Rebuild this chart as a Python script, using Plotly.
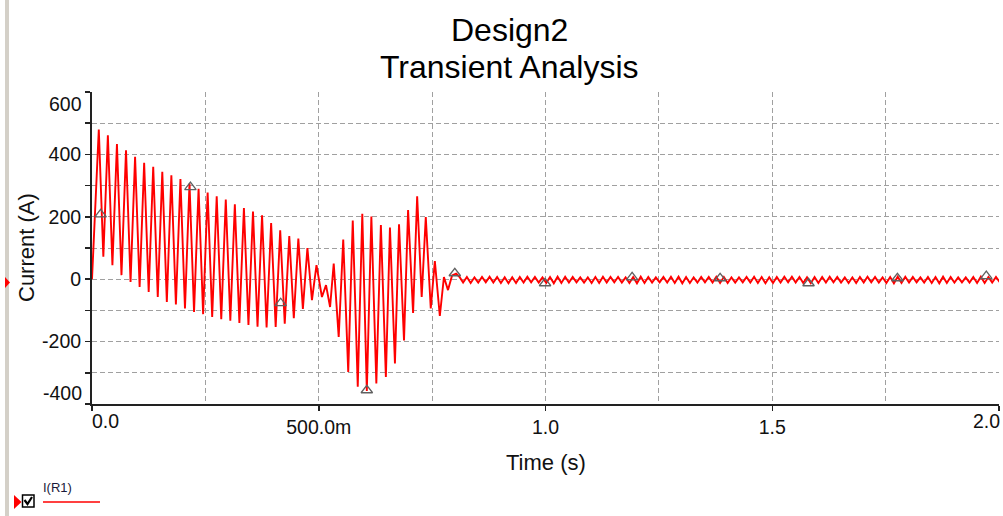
import numpy as np
import plotly.graph_objects as go

# ---------------- data ----------------
# decaying 50 Hz section: peak / trough values per cycle
decay_first_peak_t = 0.015
decay_period = 0.02
decay_peaks = [480, 461, 433, 413, 392, 373, 360, 344, 333, 321, 307, 290, 278,
               266, 255, 240, 228, 217, 205, 180, 157, 138, 130, 100, 45]
decay_troughs = [72, 45, 13, -9, -25, -41, -57, -73, -81, -94, -105, -112, -121,
                 -128, -133, -140, -147, -152, -155, -153, -143, -125, -95, -67]

# burst section (0.5 s .. 0.8 s): extrema times and values
burst_t = [0.507, 0.516, 0.525, 0.533, 0.544, 0.554, 0.565, 0.575, 0.586, 0.596,
           0.606, 0.616, 0.627, 0.637, 0.648, 0.657, 0.668, 0.677, 0.688, 0.697,
           0.708, 0.717, 0.727, 0.736, 0.747, 0.756, 0.767, 0.776, 0.785, 0.794, 0.803]
burst_v = [-57, -19, -89, 50, -185, 127, -297, 188, -345, 210,
           -358, 201, -334, 174, -313, 166, -270, 176, -196, 222,
           -108, 266, -57, 199, -94, 58, -118, 7, -35, 12, 18]

# steady ripple after 0.8 s (about 60 Hz)
tail_first_t = 0.81
tail_period = 1 / 60
tail_hi = [8, 7, 6, 7, 8, 7, 6, 6, 7, 8, 7, 6,
           7, 8, 8, 7, 6, 6, 7, 8, 7, 7, 6, 7,
           8, 7, 6, 7, 8, 8, 7, 6, 7, 7, 8, 7,
           6, 6, 7, 8, 7, 6, 7, 8, 8, 7, 6, 7,
           7, 8, 7, 6, 6, 7, 8, 7, 6, 7, 8, 8,
           7, 6, 7, 7, 8, 7, 6, 6, 7, 8, 7, 7]
tail_lo = [-11, -12, -11, -10, -11, -12, -13, -12, -11, -10, -11, -12,
           -13, -12, -11, -10, -11, -12, -12, -11, -10, -11, -12, -13,
           -12, -11, -10, -11, -12, -13, -12, -11, -10, -11, -12, -12,
           -11, -10, -11, -12, -13, -12, -11, -10, -11, -12, -13, -12,
           -11, -10, -11, -12, -12, -11, -10, -11, -12, -13, -12, -11,
           -10, -11, -12, -13, -12, -11, -10, -11, -12, -12, -11, -10]

# cursor triangles on the trace
marker_t = [0.019, 0.217, 0.416, 0.606, 0.800, 0.999, 1.191, 1.385, 1.580, 1.776, 1.972]
marker_v = [208, 295, -77, -356, 19, -13, 6, 3, -13, 3, 10]

# axis ticks
y_tickvals = [-400, -300, -200, -100, 0, 100, 200, 300, 400, 500, 600]
y_ticktext = ["", "", "-200", "", "0", "", "200", "", "400", "", ""]
x_tickvals = [0.0, 0.5, 1.0, 1.5, 2.0]
x_ticktext = ["", "500.0m", "1.0", "1.5", ""]
x_minor_vals = [0.25, 0.75, 1.25, 1.75]

# ---------------- build the trace ----------------
t = [0.0]
v = [0.0]
for k, p in enumerate(decay_peaks):
    t.append(decay_first_peak_t + k * decay_period)
    v.append(p)
    if k < len(decay_troughs):
        t.append(decay_first_peak_t + k * decay_period + decay_period / 2)
        v.append(decay_troughs[k])
t += burst_t
v += burst_v
for k, (hi, lo) in enumerate(zip(tail_hi, tail_lo)):
    t.append(tail_first_t + k * tail_period)
    v.append(hi)
    t.append(tail_first_t + k * tail_period + tail_period / 2)
    v.append(lo)

W, H = 1003, 516
L, R, T, B = 92, 4, 92, 112
pw, ph = W - L - R, H - T - B


def px(xp):
    return (xp - L) / pw


def py(yp):
    return (H - B - yp) / ph


FONT = "Liberation Sans, Arial, sans-serif"
GRID = "#a0a0a0"
DASH = "5px,3px"
TICKSIZE = 19.5

fig = go.Figure()
fig.add_trace(go.Scatter(x=t, y=v, mode="lines",
                         line=dict(color="#ff0000", width=1.9),
                         hoverinfo="skip", showlegend=False))
fig.add_trace(go.Scatter(x=marker_t, y=marker_v, mode="markers",
                         marker=dict(symbol="triangle-up-open", size=10,
                                     color="#606060", line=dict(width=1.3)),
                         hoverinfo="skip", showlegend=False))

fig.update_layout(
    width=W, height=H,
    margin=dict(l=L, r=R, t=T, b=B),
    paper_bgcolor="white", plot_bgcolor="white",
    font=dict(family=FONT, color="#111111"),
    showlegend=False,
)

fig.update_xaxes(
    range=[0, 2.0], tickvals=x_tickvals, ticktext=x_ticktext,
    showgrid=True, gridcolor=GRID, griddash=DASH, gridwidth=1,
    minor=dict(tickvals=x_minor_vals, showgrid=True, gridcolor=GRID,
               griddash=DASH, gridwidth=1, ticks=""),
    showline=True, linecolor="#222222", linewidth=2, mirror=False,
    ticks="outside", ticklen=5, tickcolor="#222222", tickwidth=1.5,
    tickfont=dict(size=TICKSIZE, family=FONT, color="#111111"),
    ticklabeloverflow="allow",
    zeroline=False, automargin=False,
)
fig.update_yaxes(
    range=[-400, 600], tickvals=y_tickvals, ticktext=y_ticktext,
    showgrid=True, gridcolor=GRID, griddash=DASH, gridwidth=1,
    showline=True, linecolor="#222222", linewidth=2, mirror=False,
    ticks="outside", ticklen=5, tickcolor="#222222", tickwidth=1.5,
    tickfont=dict(size=TICKSIZE, family=FONT, color="#111111"),
    zeroline=False, automargin=False,
)

ann = []
# title lines
ann.append(dict(text="Design2", x=px(509), y=py(30), xref="paper", yref="paper",
                showarrow=False, font=dict(size=32, family=FONT, color="#000"),
                xanchor="center", yanchor="middle"))
ann.append(dict(text="Transient Analysis", x=px(509), y=py(67), xref="paper", yref="paper",
                showarrow=False, font=dict(size=32, family=FONT, color="#000"),
                xanchor="center", yanchor="middle"))
# axis titles
ann.append(dict(text="Time (s)", x=px(546), y=py(462), xref="paper", yref="paper",
                showarrow=False, font=dict(size=22, family=FONT, color="#111"),
                xanchor="center", yanchor="middle"))
ann.append(dict(text="Current (A)", x=px(26), y=py(248), xref="paper", yref="paper",
                showarrow=False, textangle=-90, font=dict(size=22, family=FONT, color="#111"),
                xanchor="center", yanchor="middle"))
# edge tick labels, pulled inside like the original
ann.append(dict(text="600", x=px(84), y=py(104), xref="paper", yref="paper",
                showarrow=False, font=dict(size=TICKSIZE, family=FONT, color="#111"),
                xanchor="right", yanchor="middle"))
ann.append(dict(text="-400", x=px(84), y=py(393), xref="paper", yref="paper",
                showarrow=False, font=dict(size=TICKSIZE, family=FONT, color="#111"),
                xanchor="right", yanchor="middle"))
ann.append(dict(text="0.0", x=px(90), y=py(421), xref="paper", yref="paper",
                showarrow=False, font=dict(size=TICKSIZE, family=FONT, color="#111"),
                xanchor="left", yanchor="middle"))
ann.append(dict(text="2.0", x=px(1002), y=py(421), xref="paper", yref="paper",
                showarrow=False, font=dict(size=TICKSIZE, family=FONT, color="#111"),
                xanchor="right", yanchor="middle"))
# legend text
ann.append(dict(text="I(R1)", x=px(41), y=py(487), xref="paper", yref="paper",
                showarrow=False, font=dict(size=13, family=FONT, color="#1a1a3a"),
                xanchor="left", yanchor="middle"))
fig.update_layout(annotations=ann)

shapes = []
# window side bar
shapes.append(dict(type="rect", xref="paper", yref="paper",
                   x0=px(5), x1=px(9), y0=py(0), y1=py(H),
                   fillcolor="#d4d0c8", line=dict(width=0), layer="above"))
# red pointer on the side bar
shapes.append(dict(type="path", xref="paper", yref="paper",
                   path=f"M {px(5)} {py(277)} L {px(5)} {py(288)} L {px(10)} {py(282.5)} Z",
                   fillcolor="#ff0000", line=dict(width=0), layer="above"))
# legend pointer
shapes.append(dict(type="path", xref="paper", yref="paper",
                   path=f"M {px(14)} {py(495)} L {px(14)} {py(509)} L {px(21.5)} {py(502)} Z",
                   fillcolor="#ff0000", line=dict(width=0), layer="above"))
# checkbox
shapes.append(dict(type="rect", xref="paper", yref="paper",
                   x0=px(22.5), x1=px(34), y0=py(495), y1=py(507),
                   fillcolor="white", line=dict(color="#000", width=1.5), layer="above"))
shapes.append(dict(type="path", xref="paper", yref="paper",
                   path=f"M {px(24.5)} {py(500)} L {px(27.5)} {py(504)} L {px(32)} {py(497)}",
                   line=dict(color="#000", width=2.2), layer="above"))
# legend line
shapes.append(dict(type="line", xref="paper", yref="paper",
                   x0=px(43), x1=px(100), y0=py(502), y1=py(502),
                   line=dict(color="#ff0000", width=1.5), layer="above"))
fig.update_layout(shapes=shapes)

fig.write_html("out.html",
               config={"displayModeBar": False, "staticPlot": True},
               post_script="document.body.style.margin='0px';"
                           "document.body.style.overflow='hidden';")
